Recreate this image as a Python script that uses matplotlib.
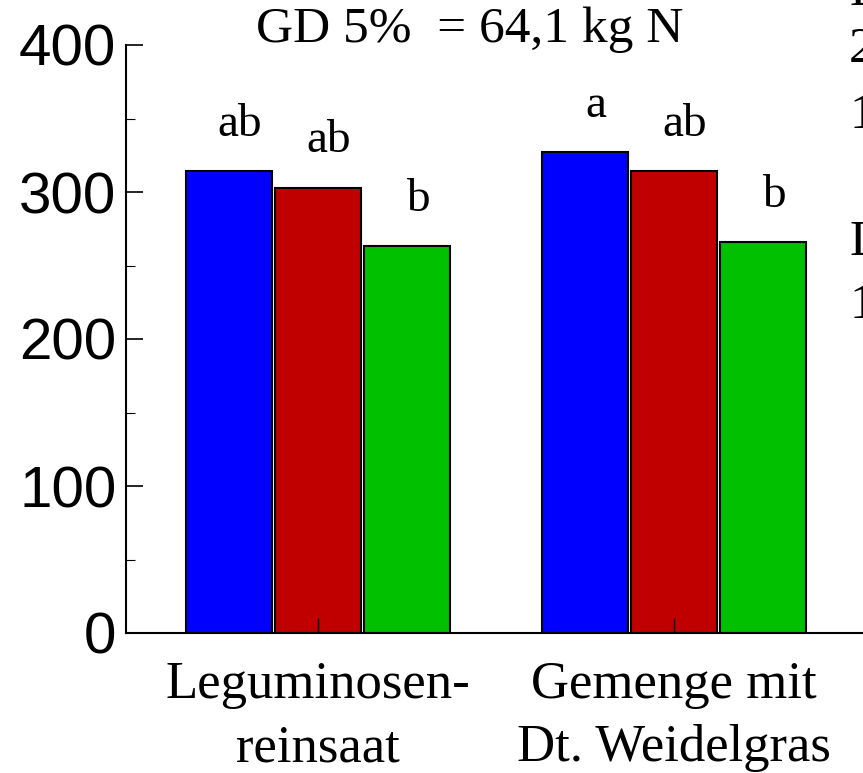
import matplotlib.pyplot as plt
import numpy as np
from matplotlib.ticker import MultipleLocator

# data (kg N)
groups = ["Leguminosen-\nreinsaat", "Gemenge mit\nDt. Weidelgras"]
blue_vals = [314, 327]
red_vals = [303, 314]
green_vals = [263, 266]
blue_letters = ["ab", "a"]
red_letters = ["ab", "ab"]
green_letters = ["b", "b"]
gd_text = "GD 5%  = 64,1 kg N"

serif = "Liberation Serif"
sans = "Liberation Sans"

fig = plt.figure(figsize=(8.63, 7.73), dpi=100)
ax = fig.add_axes([126 / 863, 140 / 773, 737 / 863, 588 / 773])

x = np.arange(len(groups))
w = 0.242
step = 0.25
series = [(blue_vals, blue_letters, "#0000ff"),
          (red_vals, red_letters, "#c00000"),
          (green_vals, green_letters, "#00c000")]

for i, (vals, letters, col) in enumerate(series):
    pos = x + (i - 1) * step
    ax.bar(pos, vals, width=w, color=col, edgecolor="black", linewidth=1.5)
    for p, v, t in zip(pos, vals, letters):
        ax.text(p + 0.03, v + 24, t, ha="center", va="baseline",
                fontsize=34, family=serif)

ax.set_xlim((126 - 318) / 356, (863 - 318) / 356)
ax.set_ylim(0, 400)
ax.yaxis.set_major_locator(MultipleLocator(100))
ax.yaxis.set_minor_locator(MultipleLocator(50))
ax.set_xticks(x)
ax.set_xticklabels(groups, family=serif, fontsize=38, linespacing=1.42)
ax.tick_params(axis="y", which="major", direction="in", length=12, width=1.2,
               labelsize=42, pad=7)
ax.tick_params(axis="y", which="minor", direction="in", length=6.5, width=0.8)
ax.tick_params(axis="x", direction="in", length=11, width=1, pad=20)
for lab in ax.get_yticklabels():
    lab.set_family(sans)

for s in ["top", "right"]:
    ax.spines[s].set_visible(False)
ax.spines["left"].set_linewidth(1.5)
ax.spines["bottom"].set_linewidth(1.5)

fig.text(470 / 863, 1 - 42 / 773, gd_text, ha="center", va="baseline",
         fontsize=37, family=serif)

# text cut off at the right border of the original picture
for t, yb in [("L", 5), ("2", 62), ("1", 128), ("L", 255), ("1", 318)]:
    fig.text(849 / 863, 1 - yb / 773, t, ha="left", va="baseline",
             fontsize=37, family=serif)

fig.savefig("out.png", dpi=100)
